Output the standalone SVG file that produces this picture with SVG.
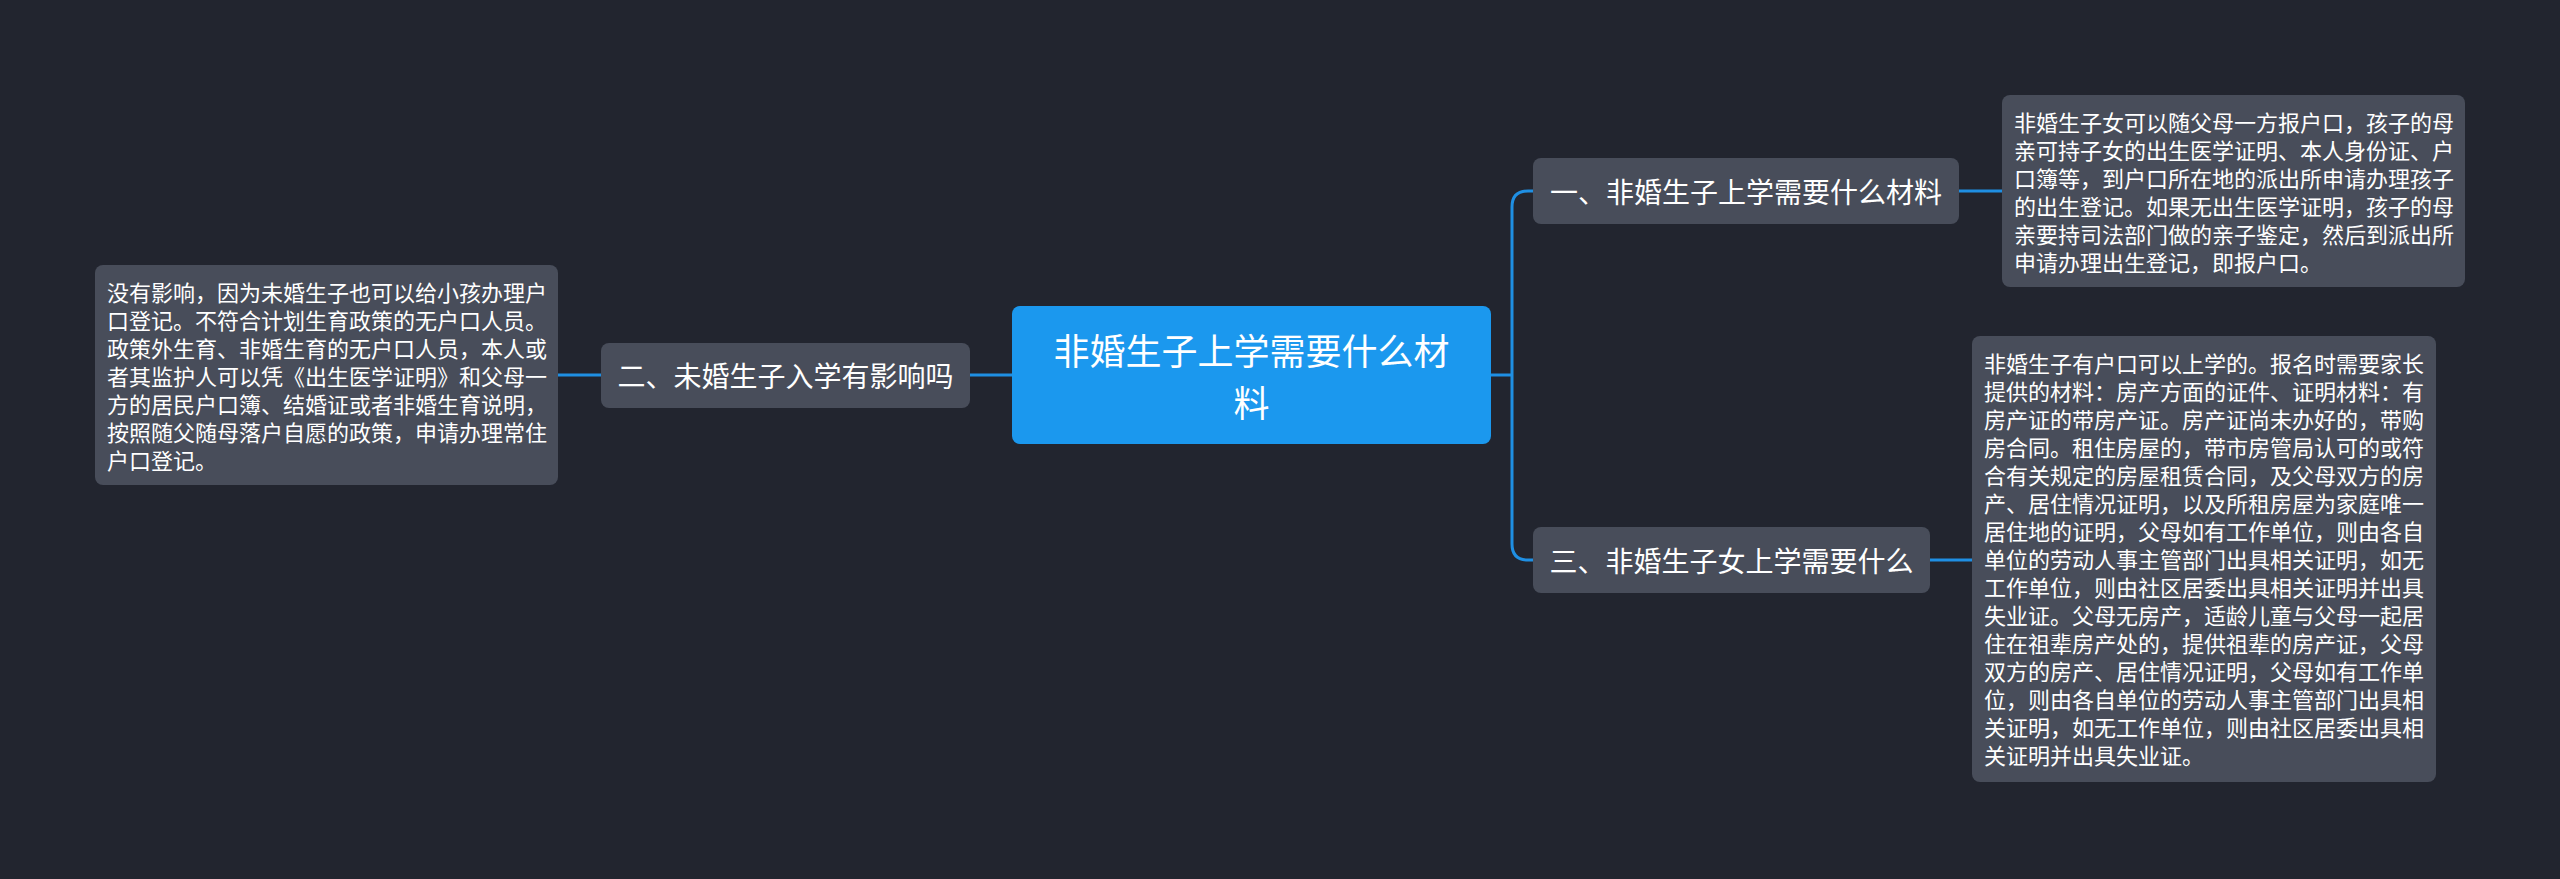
<svg xmlns="http://www.w3.org/2000/svg" width="2560" height="879" viewBox="0 0 2560 879">
<style>
.bg{fill:#22252f}
.root{fill:#1b98ee}
.box{fill:#484d5a}
.t{font-family:"Noto Sans CJK SC","Noto Sans",sans-serif;fill:#ffffff;dominant-baseline:central}
.rt{font-size:36px;text-anchor:middle}
.bt{font-size:28px;text-anchor:middle}
.lt{font-size:22px}
.c{fill:none;stroke:#1f8fe3;stroke-width:3}
</style>
<rect class="bg" x="0" y="0" width="2560" height="879"/>
<g id="connectors">
<path class="c" d="M1491,375 H1512"/>
<path class="c" d="M1533,191 H1528 Q1512,191 1512,207 V544 Q1512,560 1528,560 H1533"/>
<path class="c" d="M1959,191 H2002"/>
<path class="c" d="M1930,560 H1972"/>
<path class="c" d="M1012,375 H970"/>
<path class="c" d="M601,375 H558"/>
</g>
<g id="root">
<rect class="root" x="1012" y="306" width="479" height="138" rx="8"/>
<text class="t rt" x="1251.5" y="349">非婚生子上学需要什么材</text>
<text class="t rt" x="1251.5" y="401">料</text>
</g>
<g id="branch1">
<rect class="box" x="1533" y="158" width="426" height="66" rx="8"/>
<text class="t bt" x="1746" y="191">一、非婚生子上学需要什么材料</text>
</g>
<g id="branch2">
<rect class="box" x="601" y="343" width="369" height="65" rx="8"/>
<text class="t bt" x="785.5" y="375">二、未婚生子入学有影响吗</text>
</g>
<g id="branch3">
<rect class="box" x="1533" y="527" width="397" height="66" rx="8"/>
<text class="t bt" x="1731.5" y="560">三、非婚生子女上学需要什么</text>
</g>
<g id="leaf1">
<rect class="box" x="2002" y="95" width="463" height="192" rx="8"/>
<text class="t lt" x="2014" y="121">非婚生子女可以随父母一方报户口，孩子的母</text>
<text class="t lt" x="2014" y="149">亲可持子女的出生医学证明、本人身份证、户</text>
<text class="t lt" x="2014" y="177">口簿等，到户口所在地的派出所申请办理孩子</text>
<text class="t lt" x="2014" y="205">的出生登记。如果无出生医学证明，孩子的母</text>
<text class="t lt" x="2014" y="233">亲要持司法部门做的亲子鉴定，然后到派出所</text>
<text class="t lt" x="2014" y="261">申请办理出生登记，即报户口。</text>
</g>
<g id="leaf2">
<rect class="box" x="95" y="265" width="463" height="220" rx="8"/>
<text class="t lt" x="107" y="291">没有影响，因为未婚生子也可以给小孩办理户</text>
<text class="t lt" x="107" y="319">口登记。不符合计划生育政策的无户口人员。</text>
<text class="t lt" x="107" y="347">政策外生育、非婚生育的无户口人员，本人或</text>
<text class="t lt" x="107" y="375">者其监护人可以凭《出生医学证明》和父母一</text>
<text class="t lt" x="107" y="403">方的居民户口簿、结婚证或者非婚生育说明，</text>
<text class="t lt" x="107" y="431">按照随父随母落户自愿的政策，申请办理常住</text>
<text class="t lt" x="107" y="459">户口登记。</text>
</g>
<g id="leaf3">
<rect class="box" x="1972" y="336" width="464" height="446" rx="8"/>
<text class="t lt" x="1984" y="362">非婚生子有户口可以上学的。报名时需要家长</text>
<text class="t lt" x="1984" y="390">提供的材料：房产方面的证件、证明材料：有</text>
<text class="t lt" x="1984" y="418">房产证的带房产证。房产证尚未办好的，带购</text>
<text class="t lt" x="1984" y="446">房合同。租住房屋的，带市房管局认可的或符</text>
<text class="t lt" x="1984" y="474">合有关规定的房屋租赁合同，及父母双方的房</text>
<text class="t lt" x="1984" y="502">产、居住情况证明，以及所租房屋为家庭唯一</text>
<text class="t lt" x="1984" y="530">居住地的证明，父母如有工作单位，则由各自</text>
<text class="t lt" x="1984" y="558">单位的劳动人事主管部门出具相关证明，如无</text>
<text class="t lt" x="1984" y="586">工作单位，则由社区居委出具相关证明并出具</text>
<text class="t lt" x="1984" y="614">失业证。父母无房产，适龄儿童与父母一起居</text>
<text class="t lt" x="1984" y="642">住在祖辈房产处的，提供祖辈的房产证，父母</text>
<text class="t lt" x="1984" y="670">双方的房产、居住情况证明，父母如有工作单</text>
<text class="t lt" x="1984" y="698">位，则由各自单位的劳动人事主管部门出具相</text>
<text class="t lt" x="1984" y="726">关证明，如无工作单位，则由社区居委出具相</text>
<text class="t lt" x="1984" y="754">关证明并出具失业证。</text>
</g>
</svg>
